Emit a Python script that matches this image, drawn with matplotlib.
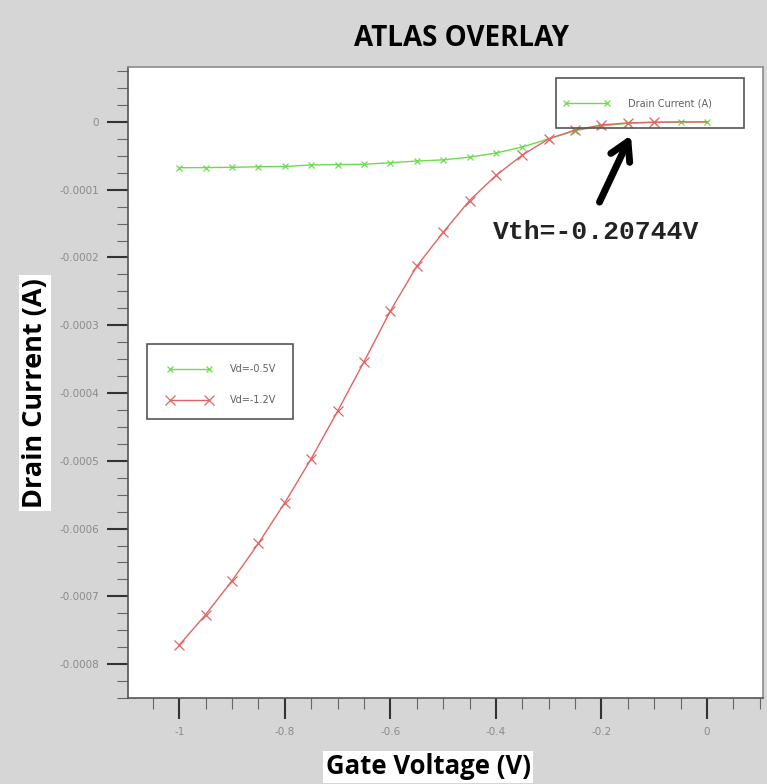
import matplotlib
matplotlib.use("Agg")
import matplotlib.pyplot as plt
from matplotlib.patches import Rectangle
from matplotlib.ticker import MultipleLocator, FixedLocator, FixedFormatter

# gate voltage sweep (V)
vg = [-1.00, -0.95, -0.90, -0.85, -0.80, -0.75, -0.70, -0.65, -0.60, -0.55,
      -0.50, -0.45, -0.40, -0.35, -0.30, -0.25, -0.20, -0.15, -0.10, -0.05, 0.00]

# drain current (A) for Vd=-0.5V
id_05 = [-6.76e-5, -6.74e-5, -6.70e-5, -6.62e-5, -6.58e-5, -6.35e-5, -6.30e-5,
         -6.25e-5, -6.02e-5, -5.78e-5, -5.60e-5, -5.20e-5, -4.60e-5, -3.70e-5,
         -2.50e-5, -1.30e-5, -0.60e-5, -0.20e-5, -0.05e-5, -0.01e-5, 0.0]

# drain current (A) for Vd=-1.2V
id_12 = [-7.72e-4, -7.27e-4, -6.77e-4, -6.22e-4, -5.62e-4, -4.97e-4, -4.27e-4,
         -3.54e-4, -2.79e-4, -2.13e-4, -1.63e-4, -1.16e-4, -0.79e-4, -0.49e-4,
         -0.25e-4, -0.12e-4, -0.045e-4, -0.015e-4, -0.005e-4, -0.001e-4, 0.0]

series_labels = ["Vd=-0.5V", "Vd=-1.2V"]
xticks = [-1.0, -0.8, -0.6, -0.4, -0.2, 0.0]
xtick_labels = ["-1", "-0.8", "-0.6", "-0.4", "-0.2", "0"]
yticks = [0, -1e-4, -2e-4, -3e-4, -4e-4, -5e-4, -6e-4, -7e-4, -8e-4]
ytick_labels = ["0", "-0.0001", "-0.0002", "-0.0003", "-0.0004",
                "-0.0005", "-0.0006", "-0.0007", "-0.0008"]
vth_text = "Vth=-0.20744V"

W, H = 767, 784
fig = plt.figure(figsize=(W / 100, H / 100), dpi=100, facecolor="#d6d6d6")

def px_box(x0, y0, x1, y1):
    # pixel box (top-left origin) -> figure fraction
    return [x0 / W, 1 - y1 / H, (x1 - x0) / W, (y1 - y0) / H]

def px(x, y):
    return (x / W, 1 - y / H)

ax = fig.add_axes(px_box(128, 67, 763, 698))
ax.set_facecolor("white")

green = "#6bdc4f"
red = "#e26464"

l1, = ax.plot(vg, id_05, color=green, lw=1.0, marker="x", ms=5, mew=0.9)
l2, = ax.plot(vg, id_12, color=red, lw=1.0, marker="x", ms=7, mew=0.9,
              markevery=slice(0, 19))

ax.set_xlim(-1.097, 0.106)
ax.set_ylim(-8.5e-4, 0.81e-4)

ax.xaxis.set_major_locator(FixedLocator(xticks))
ax.xaxis.set_major_formatter(FixedFormatter(xtick_labels))
ax.xaxis.set_minor_locator(MultipleLocator(0.05))
ax.yaxis.set_major_locator(FixedLocator(yticks))
ax.yaxis.set_major_formatter(FixedFormatter(ytick_labels))
ax.yaxis.set_minor_locator(MultipleLocator(0.25e-4))

ax.tick_params(which="major", direction="out", length=15, width=1.5,
               color="#333333", labelsize=7.5, labelcolor="#8a8a8a", pad=6)
ax.tick_params(which="minor", direction="out", length=8, width=0.8,
               color="#666666")

for side in ["left", "bottom"]:
    ax.spines[side].set_color("#555555")
    ax.spines[side].set_linewidth(1.2)
for side in ["top", "right"]:
    ax.spines[side].set_color("#8c8c8c")
    ax.spines[side].set_linewidth(1.2)

# legend boxes
b = px_box(147, 344, 293, 419)
fig.patches.append(Rectangle(b[:2], b[2], b[3], transform=fig.transFigure,
                             fill=False, edgecolor="#555555", lw=1.2))
leg1 = ax.legend([l1, l2], series_labels, loc="upper left",
                 bbox_to_anchor=px(167, 364), bbox_transform=fig.transFigure,
                 frameon=False, borderpad=0, borderaxespad=0,
                 fontsize=7, labelcolor="#606060", numpoints=2,
                 handlelength=4.6, handletextpad=1.85, labelspacing=2.2)
ax.add_artist(leg1)

b = px_box(556, 78, 744, 128)
fig.patches.append(Rectangle(b[:2], b[2], b[3], transform=fig.transFigure,
                             fill=False, edgecolor="#555555", lw=1.2))
ax.legend([l1], ["Drain Current (A)"], loc="center left",
          bbox_to_anchor=px(563, 103), bbox_transform=fig.transFigure,
          frameon=False, borderpad=0, borderaxespad=0,
          fontsize=7, labelcolor="#606060", numpoints=2,
          handlelength=4.8, handletextpad=1.85)

# threshold annotation
ax.annotate("", xy=(-0.142, -0.16e-4), xytext=(-0.206, -1.22e-4),
            arrowprops=dict(arrowstyle="->,head_length=1.3,head_width=0.75",
                            color="black", lw=5))
ax.text(-0.405, -1.63e-4, vth_text, fontsize=19, fontweight="bold",
        family="Liberation Mono", va="center", ha="left", color="#222222")

# titles and axis labels
fig.text(*px(462, 38), "ATLAS OVERLAY", ha="center", va="center",
         fontsize=20, fontweight="bold", family="Open Sans")
fig.text(*px(428, 767), "Gate Voltage (V)", ha="center", va="center",
         fontsize=18.5, fontweight="bold", family="Open Sans",
         bbox=dict(facecolor="white", edgecolor="none", pad=2))
fig.text(*px(35, 393), "Drain Current (A)", ha="center", va="center",
         rotation=90, fontsize=19.5, fontweight="bold", family="Open Sans",
         bbox=dict(facecolor="white", edgecolor="none", pad=2))

fig.savefig("out.png", dpi=100, facecolor=fig.get_facecolor())
